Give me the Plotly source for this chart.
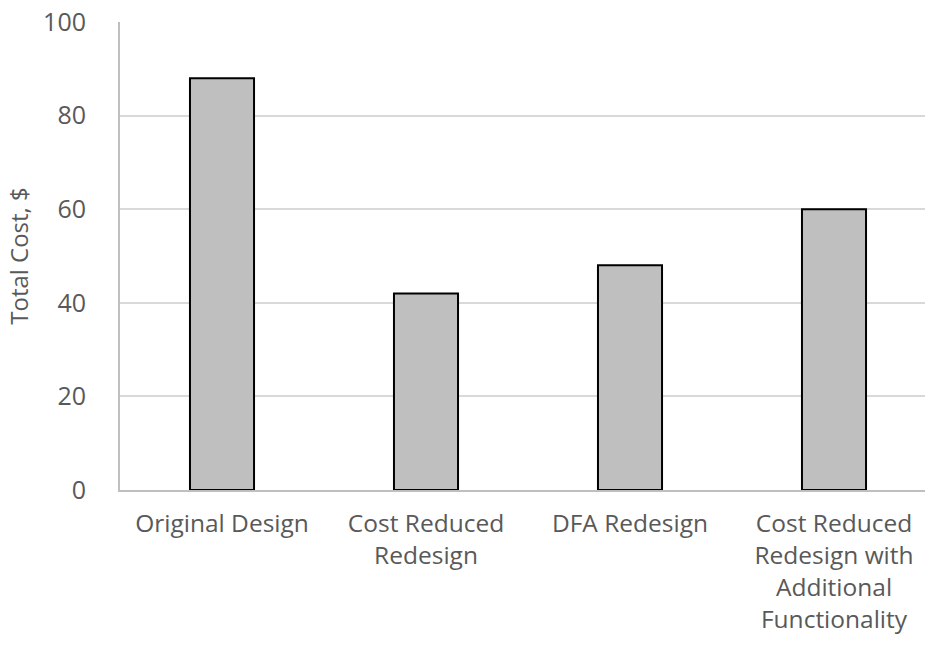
import plotly.graph_objects as go

categories = [
    "Original Design",
    "Cost Reduced<br>Redesign",
    "DFA Redesign",
    "Cost Reduced<br>Redesign with<br>Additional<br>Functionality",
]
total_cost = [88, 42, 48, 60]
y_ticks = [0, 20, 40, 60, 80, 100]

FONT = "Open Sans"
TEXT_COLOR = "#595959"

fig = go.Figure(
    go.Bar(
        x=list(range(len(categories))),
        y=total_cost,
        width=0.314,
        marker=dict(color="#BFBFBF", line=dict(color="#000000", width=2)),
        hoverinfo="skip",
    )
)

fig.update_layout(
    width=925,
    height=648,
    margin=dict(l=120, r=0, t=22, b=158),
    paper_bgcolor="white",
    plot_bgcolor="white",
    showlegend=False,
    font=dict(family=FONT, size=25, color=TEXT_COLOR),
)

fig.update_xaxes(
    range=[-0.5, -0.5 + 805 / 204],
    tickmode="array",
    tickvals=list(range(len(categories))),
    ticktext=categories,
    showgrid=False,
    showline=True,
    linecolor="#BFBFBF",
    linewidth=2,
    ticks="",
    ticklabelstandoff=11,
    tickfont=dict(family=FONT, size=24.5, color=TEXT_COLOR),
    zeroline=False,
)

fig.update_yaxes(
    range=[0, 100],
    tickmode="array",
    tickvals=y_ticks,
    ticktext=[str(v) for v in y_ticks],
    showgrid=True,
    gridcolor="#D9D9D9",
    gridwidth=2,
    showline=True,
    linecolor="#BFBFBF",
    linewidth=2,
    zeroline=False,
    ticks="",
    ticklabelstandoff=27,
    tickfont=dict(family=FONT, size=25, color=TEXT_COLOR),
    title=dict(text="Total Cost, $", font=dict(family=FONT, size=24, color=TEXT_COLOR), standoff=8),
)

fig.write_html("out.html")
